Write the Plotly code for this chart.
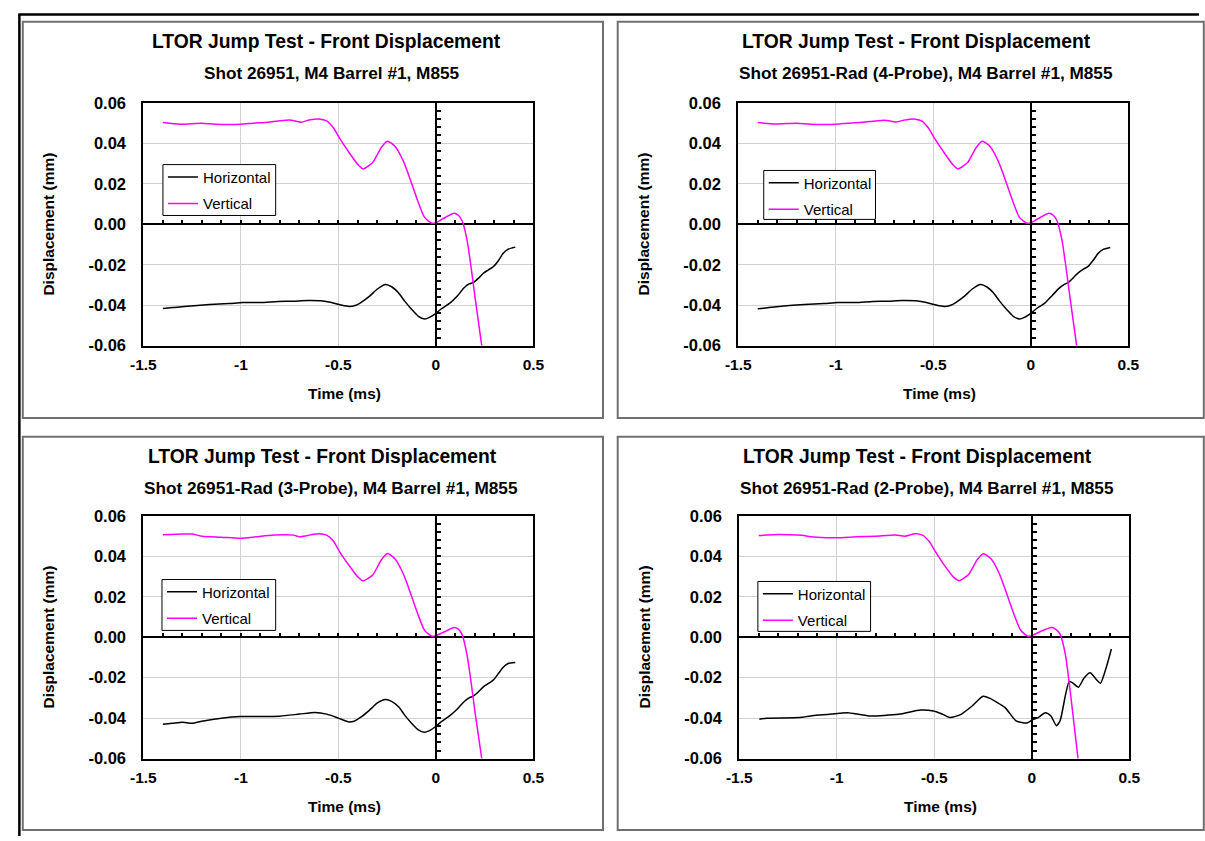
import plotly.graph_objects as go

W, H = 1205, 841

# ---------------- data (time in ms, displacement in mm) ----------------
TL_T_VERT = [-1.40, -1.31, -1.20, -1.13, -1.00, -0.94, -0.86, -0.81, -0.75, -0.69, -0.65, -0.60, -0.56,
             -0.525, -0.495, -0.445, -0.40, -0.374, -0.324, -0.28, -0.249, -0.209, -0.168, -0.142,
             -0.092, -0.058, -0.02, 0.0, 0.05, 0.093, 0.115, 0.135, 0.16, 0.18, 0.202, 0.235]
TL_VERT = [0.0503, 0.0495, 0.0500, 0.0495, 0.0495, 0.0500, 0.0505, 0.0511, 0.0516, 0.0505, 0.0516, 0.0521,
           0.0511, 0.0476, 0.0427, 0.0355, 0.0295, 0.0274, 0.0306, 0.0380, 0.0411, 0.0385, 0.0315, 0.0250,
           0.0113, 0.0034, 0.0005, 0.0008, 0.0035, 0.0055, 0.0045, 0.0016, -0.008, -0.021, -0.037, -0.060]
TL_T_HORZ = [-1.40, -1.35, -1.29, -1.16, -1.06, -0.99, -0.90, -0.81, -0.73, -0.66, -0.58, -0.535, -0.49,
             -0.445, -0.41, -0.385, -0.34, -0.30, -0.259, -0.225, -0.192, -0.16, -0.125, -0.09, -0.058,
             -0.033, 0.0, 0.025, 0.075, 0.11, 0.143, 0.17, 0.193, 0.22, 0.243, 0.27, 0.294, 0.32, 0.344,
             0.369, 0.407]
TL_HORZ = [-0.0416, -0.0412, -0.0406, -0.0397, -0.0392, -0.0387, -0.0387, -0.0382, -0.0380, -0.0377,
           -0.0379, -0.0387, -0.0398, -0.0406, -0.0400, -0.0387, -0.0355, -0.0320, -0.0298, -0.0310,
           -0.0339, -0.0380, -0.0420, -0.0455, -0.0468, -0.0460, -0.0440, -0.0420, -0.0387, -0.0355,
           -0.0315, -0.0295, -0.0287, -0.0265, -0.0242, -0.0225, -0.0210, -0.0180, -0.0145, -0.0124,
           -0.0113]

TR_T_VERT = [-1.40, -1.31, -1.20, -1.13, -1.00, -0.94, -0.86, -0.81, -0.75, -0.69, -0.65, -0.60, -0.56,
             -0.525, -0.495, -0.445, -0.40, -0.374, -0.324, -0.28, -0.249, -0.209, -0.168, -0.142,
             -0.092, -0.058, -0.02, 0.0, 0.05, 0.093, 0.115, 0.135, 0.16, 0.18, 0.202, 0.235]
TR_VERT = [0.0503, 0.0496, 0.0500, 0.0495, 0.0495, 0.0500, 0.0505, 0.0510, 0.0515, 0.0506, 0.0515, 0.0521,
           0.0511, 0.0476, 0.0427, 0.0355, 0.0295, 0.0274, 0.0306, 0.0380, 0.0411, 0.0385, 0.0315, 0.0250,
           0.0113, 0.0034, 0.0005, 0.0008, 0.0035, 0.0055, 0.0045, 0.0016, -0.008, -0.021, -0.037, -0.060]
TR_T_HORZ = [-1.40, -1.35, -1.29, -1.16, -1.06, -0.99, -0.90, -0.81, -0.73, -0.66, -0.58, -0.535, -0.49,
             -0.445, -0.41, -0.385, -0.34, -0.30, -0.259, -0.225, -0.192, -0.16, -0.125, -0.09, -0.058,
             -0.033, 0.0, 0.025, 0.075, 0.11, 0.143, 0.17, 0.193, 0.22, 0.243, 0.27, 0.294, 0.32, 0.344,
             0.369, 0.407]
TR_HORZ = [-0.0418, -0.0413, -0.0406, -0.0397, -0.0392, -0.0387, -0.0387, -0.0382, -0.0380, -0.0377,
           -0.0379, -0.0387, -0.0398, -0.0406, -0.0400, -0.0387, -0.0355, -0.0320, -0.0298, -0.0310,
           -0.0339, -0.0380, -0.0420, -0.0455, -0.0468, -0.0460, -0.0440, -0.0420, -0.0387, -0.0352,
           -0.0318, -0.0298, -0.0287, -0.0262, -0.0240, -0.0222, -0.0208, -0.0178, -0.0145, -0.0125,
           -0.0115]

BL_T_VERT = [-1.40, -1.30, -1.25, -1.20, -1.10, -1.00, -0.92, -0.83, -0.73, -0.70, -0.65, -0.60, -0.56,
             -0.525, -0.495, -0.445, -0.40, -0.374, -0.324, -0.28, -0.249, -0.209, -0.168, -0.142,
             -0.092, -0.058, -0.02, 0.0, 0.05, 0.093, 0.115, 0.135, 0.16, 0.18, 0.202, 0.235]
BL_VERT = [0.0507, 0.0510, 0.0510, 0.0500, 0.0495, 0.0489, 0.0497, 0.0505, 0.0505, 0.0497, 0.0505, 0.0512,
           0.0505, 0.0475, 0.0425, 0.0355, 0.0298, 0.0278, 0.0308, 0.0382, 0.0414, 0.0387, 0.0315, 0.0250,
           0.0113, 0.0034, 0.0005, 0.0008, 0.0030, 0.0048, 0.0040, 0.0012, -0.009, -0.022, -0.038, -0.060]
BL_T_HORZ = [-1.40, -1.35, -1.30, -1.25, -1.20, -1.10, -1.00, -0.90, -0.80, -0.70, -0.62, -0.56, -0.50,
             -0.45, -0.42, -0.385, -0.34, -0.30, -0.259, -0.225, -0.19, -0.16, -0.125, -0.09, -0.06,
             -0.033, 0.0, 0.025, 0.075, 0.11, 0.143, 0.17, 0.193, 0.22, 0.243, 0.27, 0.294, 0.32, 0.344,
             0.37, 0.407]
BL_HORZ = [-0.0430, -0.0425, -0.0420, -0.0425, -0.0415, -0.0400, -0.0392, -0.0392, -0.0390, -0.0380,
           -0.0372, -0.0380, -0.0400, -0.0418, -0.0415, -0.0395, -0.0360, -0.0325, -0.0308, -0.0318,
           -0.0345, -0.0385, -0.0425, -0.0458, -0.0470, -0.0462, -0.0440, -0.0420, -0.0385, -0.0355,
           -0.0320, -0.0300, -0.0290, -0.0268, -0.0245, -0.0228, -0.0212, -0.0180, -0.0150, -0.0130,
           -0.0125]

BR_T_VERT = [-1.40, -1.30, -1.20, -1.10, -1.00, -0.90, -0.80, -0.70, -0.65, -0.60, -0.56, -0.525, -0.495,
             -0.445, -0.40, -0.372, -0.324, -0.28, -0.249, -0.209, -0.168, -0.142, -0.092, -0.058, -0.02,
             0.0, 0.05, 0.10, 0.12, 0.145, 0.173, 0.201, 0.237]
BR_VERT = [0.0503, 0.0508, 0.0505, 0.0495, 0.0492, 0.0497, 0.0500, 0.0505, 0.0500, 0.0512, 0.0505, 0.0472,
           0.0425, 0.0352, 0.0296, 0.0280, 0.0310, 0.0383, 0.0413, 0.0388, 0.0318, 0.0252, 0.0115, 0.0036,
           0.0005, 0.0008, 0.0031, 0.0048, 0.0042, 0.0015, -0.009, -0.030, -0.060]
BR_T_HORZ = [-1.397, -1.359, -1.19, -1.133, -0.983, -0.945, -0.833, -0.682, -0.57, -0.504, -0.457, -0.419,
             -0.363, -0.306, -0.25, -0.215, -0.137, -0.081, -0.024, 0.004, 0.032, 0.07, 0.098, 0.126, 0.145,
             0.173, 0.192, 0.211, 0.239, 0.267, 0.299, 0.333, 0.352, 0.38, 0.408]
BR_HORZ = [-0.0405, -0.0400, -0.0397, -0.0389, -0.0376, -0.0373, -0.0389, -0.0381, -0.0360, -0.0365,
           -0.0381, -0.0397, -0.0381, -0.0340, -0.0292, -0.0302, -0.0348, -0.0413, -0.0424, -0.0408,
           -0.0397, -0.0373, -0.0389, -0.0437, -0.0413, -0.0284, -0.0219, -0.0227, -0.0247, -0.0203,
           -0.0176, -0.0211, -0.0227, -0.0155, -0.0058]

TITLE = "LTOR Jump Test - Front Displacement"
SUBTITLES = ["Shot 26951, M4 Barrel #1, M855",
             "Shot 26951-Rad (4-Probe), M4 Barrel #1, M855",
             "Shot 26951-Rad (3-Probe), M4 Barrel #1, M855",
             "Shot 26951-Rad (2-Probe), M4 Barrel #1, M855"]
LEGEND_NAMES = ["Horizontal", "Vertical"]
X_TICKS = [-1.5, -1.0, -0.5, 0.0, 0.5]
X_TICK_TEXT = ["-1.5", "-1", "-0.5", "0", "0.5"]
Y_TICKS = [-0.06, -0.04, -0.02, 0.0, 0.02, 0.04, 0.06]
Y_TICK_TEXT = ["-0.06", "-0.04", "-0.02", "0.00", "0.02", "0.04", "0.06"]

SERIES = [(TL_T_HORZ, TL_HORZ, TL_T_VERT, TL_VERT),
          (TR_T_HORZ, TR_HORZ, TR_T_VERT, TR_VERT),
          (BL_T_HORZ, BL_HORZ, BL_T_VERT, BL_VERT),
          (BR_T_HORZ, BR_HORZ, BR_T_VERT, BR_VERT)]

# ---------------- layout geometry (pixels) ----------------
PLOTS = [(133, 531, 96, 344), (740, 1138, 96, 344), (133, 531, 518, 766), (741, 1139, 518, 766)]
PANELS = [(10, 13, 602, 418), (617, 13, 1215, 418), (10, 437, 602, 839), (617, 437, 1215, 839)]
TITLE_POS = [(320, 33, 325, 65), (922, 33, 932, 65), (316, 457, 324, 489), (923, 457, 933, 489)]
LEGEND_BOX = [(153, 159, 268, 211), (766, 165, 880, 215), (152, 583, 268, 635), (760, 585, 875, 636)]

FONT = "Arial, Liberation Sans, Helvetica, sans-serif"
XR = [-1.5, 0.5]
YR = [-0.06, 0.06]


def fx(p):
    return p / W


def fy(p):
    return 1 - p / H


fig = go.Figure()
layout = dict(width=W, height=H, margin=dict(l=0, r=0, t=0, b=0),
              paper_bgcolor="white", plot_bgcolor="white", showlegend=True,
              font=dict(family=FONT, color="black"))
annotations = []
shapes = []

for i in range(4):
    n = i + 1
    m = i + 5
    x0, x1, y0, y1 = PLOTS[i]
    th, hv, tv, vv = SERIES[i]
    sfx = "" if n == 1 else str(n)
    lg = "legend" if n == 1 else f"legend{n}"

    fig.add_trace(go.Scatter(x=th, y=hv, mode="lines", name=LEGEND_NAMES[0],
                             line=dict(color="black", width=1.5, shape="spline", smoothing=0.6),
                             xaxis=f"x{sfx}", yaxis=f"y{sfx}", legend=lg, legendgroup=f"h{n}",
                             hoverinfo="skip"))
    fig.add_trace(go.Scatter(x=tv, y=vv, mode="lines", name=LEGEND_NAMES[1],
                             line=dict(color="#ff00ff", width=1.5, shape="spline", smoothing=0.6),
                             xaxis=f"x{m}", yaxis=f"y{m}", legend=lg, legendgroup=f"v{n}",
                             hoverinfo="skip"))

    zero_xfrac = fx(x0 + (x1 - x0) * (0 - XR[0]) / (XR[1] - XR[0]))
    zero_yfrac = fy(y1 - (y1 - y0) * (0 - YR[0]) / (YR[1] - YR[0]))

    layout[f"xaxis{sfx}"] = dict(domain=[fx(x0), fx(x1)], anchor=f"y{sfx}", range=XR,
                                 tickvals=X_TICKS, ticktext=X_TICK_TEXT,
                                 ticks="", showline=True, mirror=True, linecolor="black", linewidth=2,
                                 showgrid=True, gridcolor="#d0d0d0", gridwidth=1,
                                 zeroline=True, zerolinecolor="black", zerolinewidth=2,
                                 tickfont=dict(family=FONT, size=15.5, color="black", weight="bold"),
                                 ticklabelstandoff=4, fixedrange=True)
    layout[f"yaxis{sfx}"] = dict(domain=[fy(y1), fy(y0)], anchor=f"x{sfx}", range=YR,
                                 tickvals=Y_TICKS, ticktext=Y_TICK_TEXT,
                                 ticks="", showline=True, mirror=True, linecolor="black", linewidth=2,
                                 showgrid=True, gridcolor="#d0d0d0", gridwidth=1,
                                 zeroline=True, zerolinecolor="black", zerolinewidth=2,
                                 tickfont=dict(family=FONT, size=16.5, color="black", weight="bold"),
                                 ticklabelstandoff=12, fixedrange=True)
    # axes crossing at zero: minor tick marks along the zero lines
    layout[f"xaxis{m}"] = dict(overlaying=f"x{sfx}", anchor="free", position=zero_yfrac, range=XR,
                               tick0=0, dtick=0.1, ticks="inside", ticklen=4, tickwidth=1.5,
                               tickcolor="black", showticklabels=False, showgrid=False,
                               zeroline=False, showline=False, fixedrange=True)
    layout[f"yaxis{m}"] = dict(overlaying=f"y{sfx}", anchor="free", position=zero_xfrac, range=YR,
                               tick0=0, dtick=0.004, ticks="inside", ticklen=4, tickwidth=1.5,
                               tickcolor="black", showticklabels=False, showgrid=False,
                               zeroline=False, showline=False, fixedrange=True)

    bx0, by0, bx1, by1 = LEGEND_BOX[i]
    shapes.append(dict(type="rect", xref="paper", yref="paper", x0=fx(bx0), x1=fx(bx1),
                       y0=fy(by1), y1=fy(by0), line=dict(color="black", width=1),
                       fillcolor="white", layer="above"))
    layout[lg] = dict(x=fx(bx0), y=fy(by0 - 4), xanchor="left", yanchor="top",
                      bgcolor="rgba(0,0,0,0)", borderwidth=0,
                      font=dict(family=FONT, size=15, color="black"),
                      traceorder="grouped", tracegroupgap=4, itemwidth=30)

    tx, ty, sx, sy = TITLE_POS[i]
    annotations.append(dict(text=TITLE, x=fx(tx), y=fy(ty), xref="paper", yref="paper",
                            xanchor="center", yanchor="middle", showarrow=False,
                            font=dict(family=FONT, size=19.3, color="black", weight="bold")))
    annotations.append(dict(text=SUBTITLES[i], x=fx(sx), y=fy(sy), xref="paper", yref="paper",
                            xanchor="center", yanchor="middle", showarrow=False,
                            font=dict(family=FONT, size=17.2, color="black", weight="bold")))
    annotations.append(dict(text="Time (ms)", x=fx((x0 + x1) / 2 + 6), y=fy(y1 + 49), xref="paper",
                            yref="paper", xanchor="center", yanchor="middle", showarrow=False,
                            font=dict(family=FONT, size=15.5, color="black", weight="bold")))
    annotations.append(dict(text="Displacement (mm)", x=fx(x0 - 97), y=fy((y0 + y1) / 2), xref="paper",
                            yref="paper", xanchor="center", yanchor="middle", showarrow=False,
                            textangle=-90,
                            font=dict(family=FONT, size=15.5, color="black", weight="bold")))

    px0, py0, px1, py1 = PANELS[i]
    shapes.append(dict(type="rect", xref="paper", yref="paper", x0=fx(px0), x1=fx(px1),
                       y0=fy(py1), y1=fy(py0), line=dict(color="#707070", width=2),
                       fillcolor="rgba(0,0,0,0)", layer="below"))

# outer black frame lines (top and left)
shapes.append(dict(type="line", xref="paper", yref="paper", x0=fx(5.5), x1=fx(1210), y0=fy(5.5),
                   y1=fy(5.5), line=dict(color="black", width=2.5)))
shapes.append(dict(type="line", xref="paper", yref="paper", x0=fx(6.5), x1=fx(6.5), y0=fy(5),
                   y1=fy(845), line=dict(color="black", width=2.5)))

layout["annotations"] = annotations
layout["shapes"] = shapes
fig.update_layout(**layout)
fig.write_html("out.html", config={"displayModeBar": False, "staticPlot": False},
               post_script="document.body.style.margin='0';document.body.style.padding='0';"
                           "document.body.style.overflow='hidden';")
